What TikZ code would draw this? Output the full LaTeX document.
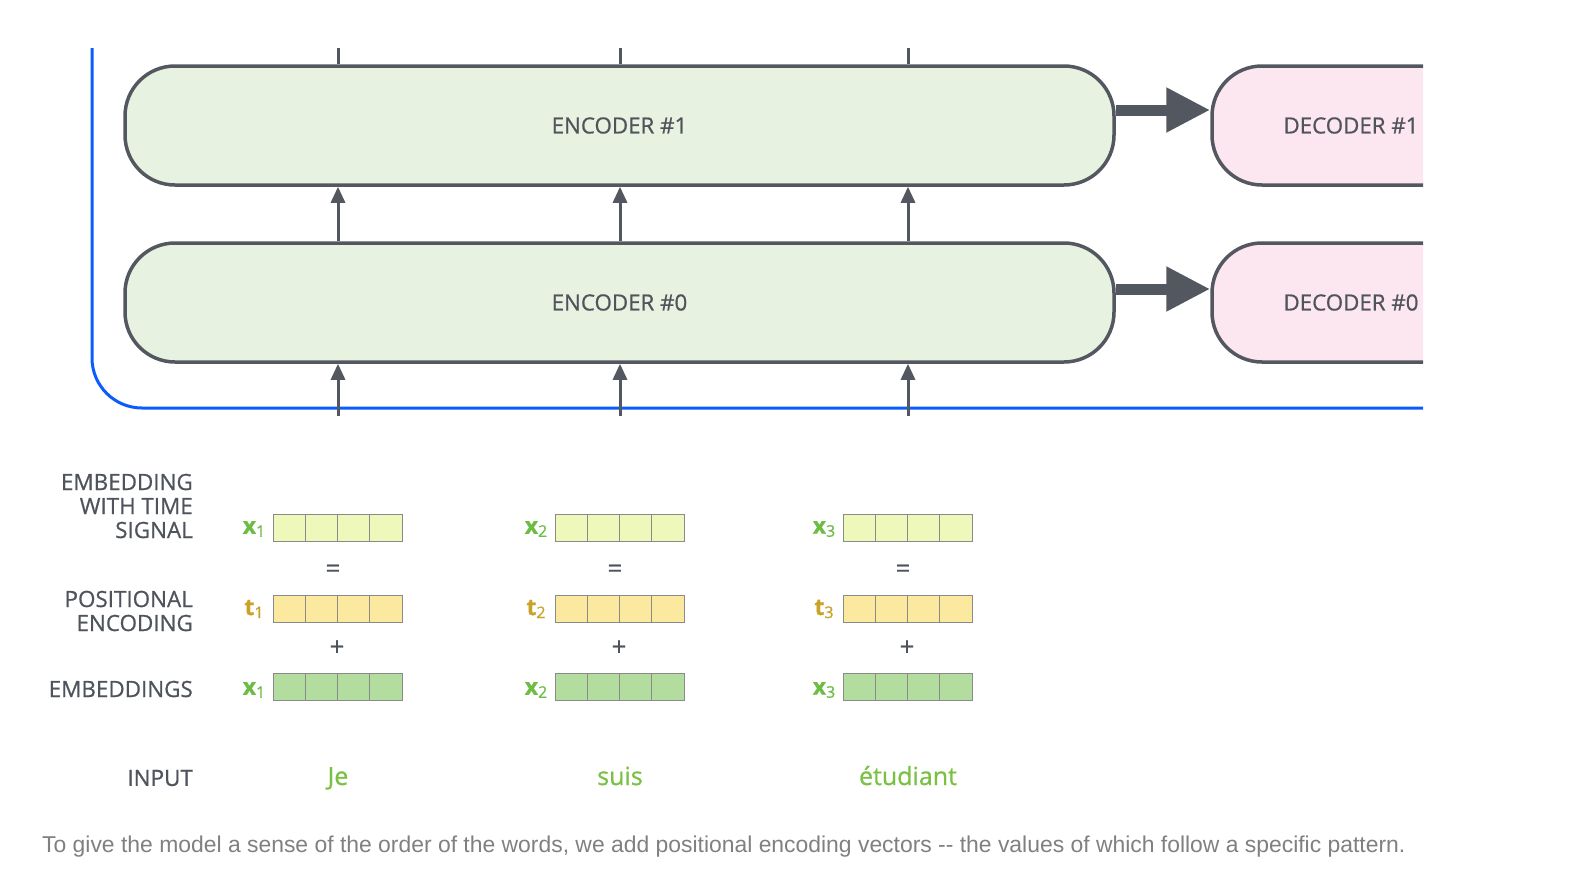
\documentclass[tikz,border=0pt]{standalone}
\usepackage{fontspec}
\setmainfont{Open Sans}[FakeBold=0.7]
\newfontfamily\capfont{Liberation Sans}
\usetikzlibrary{arrows.meta,positioning}

\definecolor{edge}{HTML}{53575F}
\definecolor{encfill}{HTML}{E7F3E0}
\definecolor{decfill}{HTML}{FCE6EF}
\definecolor{skip}{HTML}{0A5CFF}
\definecolor{wordgreen}{HTML}{7AC143}
\definecolor{xgreen}{HTML}{6DBD45}
\definecolor{tgold}{HTML}{C9A227}
\definecolor{signalfill}{HTML}{EEF8BA}
\definecolor{posfill}{HTML}{FBE9A0}
\definecolor{embfill}{HTML}{B3DD9E}
\definecolor{cellline}{HTML}{8A8A8A}
\definecolor{labeltext}{HTML}{4F545C}
\definecolor{captext}{HTML}{808080}

\tikzset{
  block/.style={draw=edge, line width=3.5pt, rounded corners=50pt, minimum height=119pt,
    text=labeltext, font=\fontsize{22.3}{24}\selectfont},
  encoder/.style={block, fill=encfill, minimum width=989pt},
  decoder/.style={block, fill=decfill, minimum width=278pt},
  flow/.style={draw=edge, line width=3pt, -{Triangle[width=14pt,length=16pt]}},
  stub/.style={draw=edge, line width=3pt},
  pass/.style={draw=edge, line width=11pt, -{Triangle[width=42pt,length=44pt]}},
  rowlabel/.style={anchor=east, align=right, inner sep=0pt, text=labeltext,
    font=\fontsize{22.4}{24}\selectfont},
  cell/.style={draw=cellline, line width=1pt},
  sign/.style={text=labeltext, inner sep=0pt, font=\fontsize{26}{26}\selectfont},
  vlabel/.style={inner sep=0pt, font=\bfseries\fontsize{23}{23}\selectfont},
}
\newcommand{\subidx}[1]{\raisebox{-3pt}{\mdseries\fontsize{16}{16}\selectfont#1}}

\begin{document}
\begin{tikzpicture}[x=1pt, y=-1pt]
\useasboundingbox (0,0) rectangle (1575,873);

% encoder / decoder stack
\node[encoder] (enc1) at (619.5,125.5) {ENCODER \#1};
\node[encoder] (enc0) at (619.5,302.5) {ENCODER \#0};
\begin{scope}
  \clip (0,0) rectangle (1423,873);
  \node[decoder] (dec1) at (1351,125.5) {DECODER \#1};
  \node[decoder] (dec0) at (1351,302.5) {DECODER \#0};
\end{scope}
\draw[pass] ([yshift=15.5pt]enc1.east) -- ([yshift=15.5pt]dec1.west);
\draw[pass] ([yshift=13.5pt]enc0.east) -- ([yshift=13.5pt]dec0.west);

% skip line
\draw[skip, line width=3pt, rounded corners=50pt] (92,48) |- (1423,408);

% columns
\foreach \i/\cx/\word in {1/338/Je, 2/620/suis, 3/908/étudiant} {
  \coordinate (top\i) at (\cx,48);
  \coordinate (in\i) at (\cx,416);
  \draw[stub] (enc1.north -| top\i) -- (top\i);
  \draw[flow] (enc0.north -| top\i) -- (enc1.south -| top\i);
  \draw[flow] (in\i) -- (enc0.south -| in\i);

  % vectors
  \foreach \cy/\col in {527.5/signalfill, 608.5/posfill, 686.5/embfill}
    \foreach \k in {0,...,3}
      \draw[cell, fill=\col] ({\cx-65+\k*32.25},{\cy-13.5}) rectangle ++(32.25,27);

  \node[vlabel, text=xgreen] (xs\i) at ({\cx-84},529) {x\subidx{\i}};
  \node[vlabel, text=tgold] (ts\i) at ({\cx-84},609) {t\subidx{\i}};
  \node[vlabel, text=xgreen] (xe\i) at ({\cx-84},690) {x\subidx{\i}};
  \node[sign] (eq\i) at ({\cx-5},571) {=};
  \node[sign] (plus\i) at ({\cx-1},648) {+};
  \node[anchor=base, text=wordgreen, font=\fontsize{25}{25}\selectfont] (w\i) at (\cx,785) {\word};
}

% row labels
\node[rowlabel] (lsig) at (193,506) {EMBEDDING\\WITH TIME\\SIGNAL};
\node[rowlabel] (lpos) at (193,611) {POSITIONAL\\ENCODING};
\node[rowlabel] (lemb) at (193,689) {EMBEDDINGS};
\node[rowlabel] (linp) at (193,778) {INPUT};

% caption
\node[anchor=west, inner sep=0pt, text=captext, font=\capfont\fontsize{22.9}{24}\selectfont] (caption) at (42,847)
  {To give the model a sense of the order of the words, we add positional encoding vectors -{}- the values of which follow a specific pattern.};
\end{tikzpicture}
\end{document}
